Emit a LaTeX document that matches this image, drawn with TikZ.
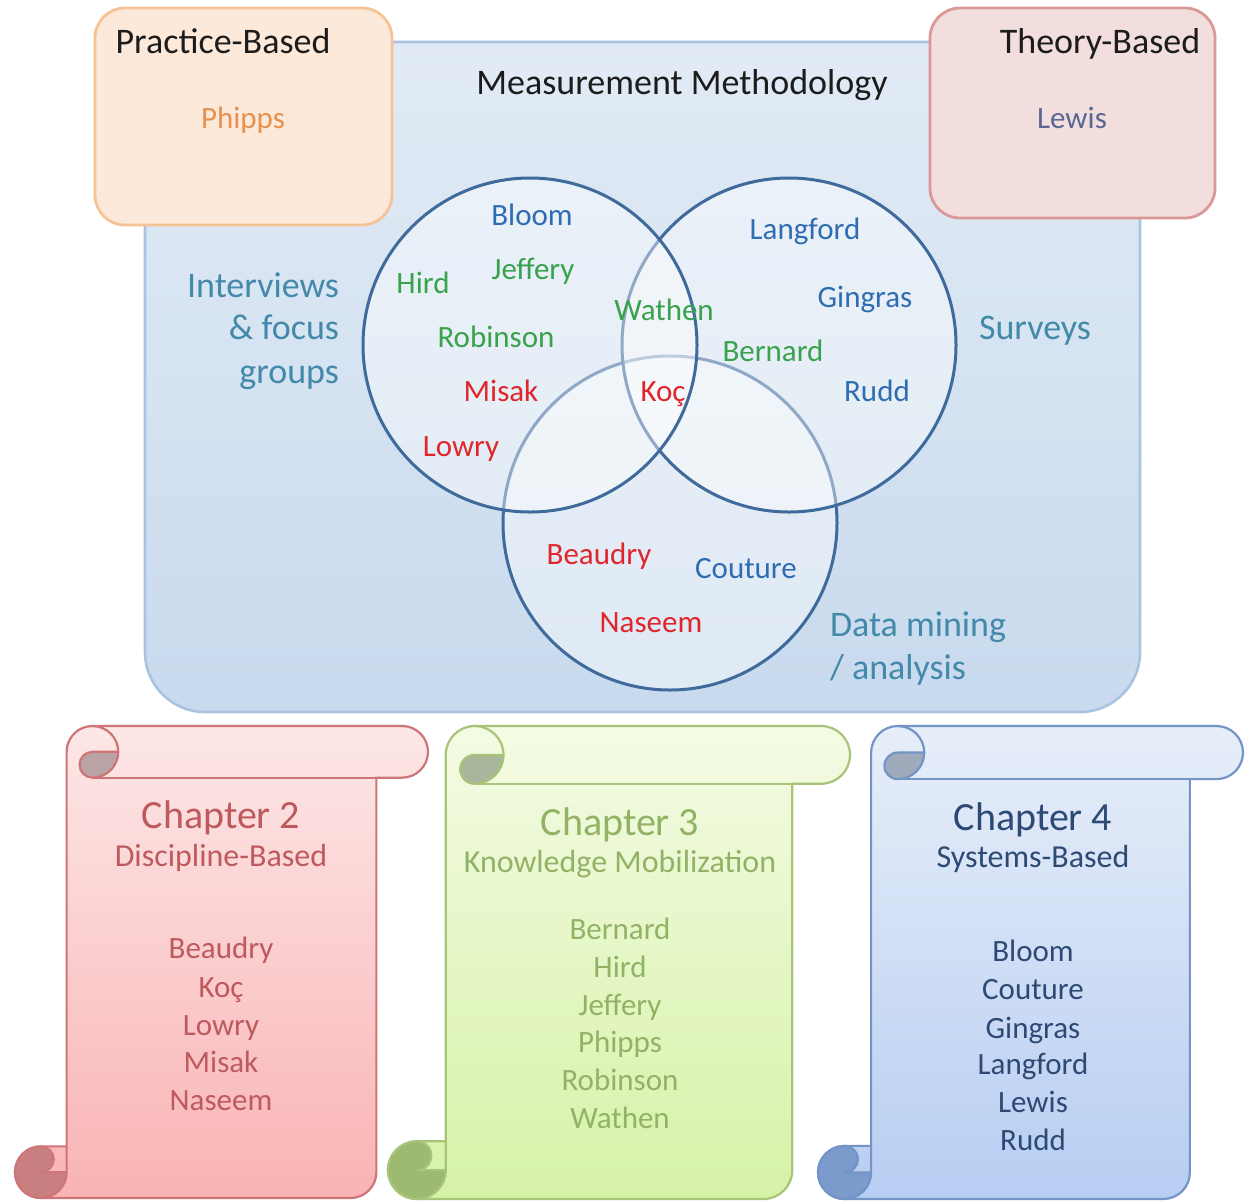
\documentclass[tikz,border=0pt]{standalone}
\usepackage{fontspec}
\setmainfont{Carlito}
\definecolor{mainline}{HTML}{A9C3E0}
\definecolor{maintop}{HTML}{E2EBF5}
\definecolor{mainbot}{HTML}{C8DAEE}
\definecolor{circline}{HTML}{3E6A9C}
\definecolor{pracfill}{HTML}{FDE9DA}
\definecolor{pracline}{HTML}{F6C396}
\definecolor{theofill}{HTML}{F2DEDD}
\definecolor{theoline}{HTML}{DA9896}
\definecolor{nblue}{HTML}{2F6DB3}
\definecolor{ngreen}{HTML}{38A24C}
\definecolor{nred}{HTML}{E0262B}
\definecolor{labc}{HTML}{4389AA}
\definecolor{phippsc}{HTML}{E8904E}
\definecolor{lewisc}{HTML}{5A6794}
\definecolor{hdc}{HTML}{1C1C1C}
% scroll colours
\definecolor{sAline}{HTML}{CD7678}
\definecolor{sAtop}{HTML}{FDE7E7}
\definecolor{sAbot}{HTML}{F9B3B4}
\definecolor{sAdtop}{HTML}{B9A3A4}
\definecolor{sAdbot}{HTML}{C97F80}
\definecolor{sAtext}{HTML}{BE5A5E}
\definecolor{sBline}{HTML}{A8C479}
\definecolor{sBtop}{HTML}{F4FBE4}
\definecolor{sBbot}{HTML}{D6F2A6}
\definecolor{sBdtop}{HTML}{A9B69C}
\definecolor{sBdbot}{HTML}{9DBA70}
\definecolor{sBtext}{HTML}{92B265}
\definecolor{sCline}{HTML}{7395C6}
\definecolor{sCtop}{HTML}{E7EEF9}
\definecolor{sCbot}{HTML}{B7CDF2}
\definecolor{sCdtop}{HTML}{9FAABB}
\definecolor{sCdbot}{HTML}{7A9BCB}
\definecolor{sCtext}{HTML}{2C4A74}
\newcommand\myscroll[5]{%
  \pgfmathsetmacro\scrW{#3-#1}%
  \pgfmathsetmacro\scrH{#4-#2}%
  \pgfmathsetmacro\scrC{0.125*min(\scrW,\scrH)}%
  \pgfmathsetmacro\scrHC{0.5*\scrC}%
  \pgfmathsetmacro\scrQC{0.25*\scrC}%
  \begin{scope}[shift={(#1,#2)}]
    \path[draw=#5line, line width=1.1pt, top color=#5top, bottom color=#5bot]
      (\scrC,\scrH-\scrC) -- (\scrC,\scrHC)
      arc[start angle=180, delta angle=90, radius=\scrHC]
      -- (\scrW-\scrHC,0)
      arc[start angle=270, delta angle=180, radius=\scrHC]
      -- (\scrW-\scrC,\scrC) -- (\scrW-\scrC,\scrH-\scrHC)
      arc[start angle=0, delta angle=90, radius=\scrHC]
      -- (\scrHC,\scrH)
      arc[start angle=90, delta angle=180, radius=\scrHC]
      -- cycle;
    \draw[draw=#5line, line width=1.1pt] (1.5*\scrC,\scrC) -- (\scrW-\scrHC,\scrC);
    \fill[#5dtop] (2*\scrC,\scrHC)
      arc[start angle=0, delta angle=90, radius=\scrHC]
      arc[start angle=90, delta angle=180, radius=\scrQC] -- cycle;
    \draw[draw=#5line, line width=1.1pt] (1.5*\scrC,0)
      arc[start angle=270, delta angle=180, radius=\scrHC]
      arc[start angle=90, delta angle=180, radius=\scrQC]
      -- (2*\scrC,\scrHC);
    \fill[#5dbot] (\scrC,\scrH-\scrHC)
      arc[start angle=0, delta angle=270, radius=\scrHC]
      arc[start angle=270, delta angle=180, radius=\scrQC] -- cycle;
    \draw[draw=#5line, line width=1.1pt] (\scrC,\scrH-\scrHC)
      arc[start angle=0, delta angle=270, radius=\scrHC]
      arc[start angle=270, delta angle=180, radius=\scrQC]
      -- (\scrC,\scrH-\scrHC) -- (\scrC,\scrH-\scrC);
  \end{scope}}
\begin{document}
\begin{tikzpicture}[x=0.5pt, y=-0.5pt,
  every node/.style={inner sep=0pt, outer sep=0pt, anchor=base},
  nmtext/.style={font=\fontsize{15.5}{18}\selectfont},
  hdtext/.style={font=\fontsize{18}{21}\selectfont, text=hdc},
  labtext/.style={font=\fontsize{18}{21}\selectfont, text=labc},
  chaptext/.style={font=\fontsize{20}{24}\selectfont},
  subtext/.style={font=\fontsize{16}{19}\selectfont},
  circstyle/.style={draw=circline, line width=1.5pt, fill=white, fill opacity=0.42, draw opacity=1}]
\useasboundingbox (0,0) rectangle (1247,1201);
\fill[white] (0,0) rectangle (1247,1201);
% main box
\path[draw=mainline, line width=1.3pt, rounded corners=30pt, top color=maintop, bottom color=mainbot]
  (145,42) rectangle (1140,712);
% circles
\draw[circstyle] (670,523) circle[radius=167];
\draw[circstyle] (789,345) circle[radius=167];
\draw[circstyle] (530,345) circle[radius=167];
% top boxes
\draw[draw=pracline, fill=pracfill, line width=1.4pt, rounded corners=15pt] (95,8) rectangle (392,225);
\draw[draw=theoline, fill=theofill, line width=1.4pt, rounded corners=15pt] (930,8) rectangle (1215,218);
% texts top
\node[hdtext] (mm) at (682,94) {Measurement Methodology};
\node[hdtext] (pb) at (223,53) {Practice-Based};
\node[nmtext, text=phippsc] (ph) at (243,128) {Phipps};
\node[hdtext] (tb) at (1100,53) {Theory-Based};
\node[nmtext, text=lewisc] (lw) at (1072,128) {Lewis};
% labels
\node[labtext, anchor=base east] (iv1) at (339,297) {Interviews};
\node[labtext, anchor=base east] (iv2) at (339,339) {\& focus};
\node[labtext, anchor=base east] (iv3) at (339,383) {groups};
\node[labtext] (sv) at (1035,339) {Surveys};
\node[labtext, anchor=base west] (dm1) at (830,636) {Data mining};
\node[labtext, anchor=base west] (dm2) at (830,679) {/ analysis};
% names in circles
\node[nmtext, text=nblue] (bloom) at (532,225) {Bloom};
\node[nmtext, text=ngreen] (hird) at (423,293) {Hird};
\node[nmtext, text=ngreen] (jeff) at (533,279) {Jeffery};
\node[nmtext, text=ngreen] (robi) at (496,347) {Robinson};
\node[nmtext, text=nred] (misak) at (501,401) {Misak};
\node[nmtext, text=nred] (lowry) at (461,456) {Lowry};
\node[nmtext, text=ngreen] (wath) at (664,320) {Wathen};
\node[nmtext, text=nred] (koc) at (663,401) {Koç};
\node[nmtext, text=nblue] (lang) at (805,239) {Langford};
\node[nmtext, text=nblue] (ging) at (865,307) {Gingras};
\node[nmtext, text=ngreen] (bern) at (773,361) {Bernard};
\node[nmtext, text=nblue] (rudd) at (877,401) {Rudd};
\node[nmtext, text=nred] (beau) at (599,564) {Beaudry};
\node[nmtext, text=nblue] (cout) at (746,578) {Couture};
\node[nmtext, text=nred] (nase) at (651,632) {Naseem};
% scrolls
\myscroll{15}{726}{428}{1198}{sA}
\myscroll{388}{726}{850}{1199}{sB}
\myscroll{818}{726}{1243}{1199}{sC}
% scroll A texts
\node[chaptext, text=sAtext] (c2) at (221,828) {Chapter 2};
\node[subtext, text=sAtext] (c2s) at (221,866) {Discipline-Based};
\node[nmtext, text=sAtext] (a1) at (221,958) {Beaudry};
\node[nmtext, text=sAtext] (a2) at (221,997) {Koç};
\node[nmtext, text=sAtext] (a3) at (221,1035) {Lowry};
\node[nmtext, text=sAtext] (a4) at (221,1072) {Misak};
\node[nmtext, text=sAtext] (a5) at (221,1110) {Naseem};
% scroll B texts
\node[chaptext, text=sBtext] (c3) at (620,835) {Chapter 3};
\node[subtext, text=sBtext] (c3s) at (620,872) {Knowledge Mobilization};
\node[nmtext, text=sBtext] (b1) at (620,939) {Bernard};
\node[nmtext, text=sBtext] (b2) at (620,977) {Hird};
\node[nmtext, text=sBtext] (b3) at (620,1015) {Jeffery};
\node[nmtext, text=sBtext] (b4) at (620,1052) {Phipps};
\node[nmtext, text=sBtext] (b5) at (620,1090) {Robinson};
\node[nmtext, text=sBtext] (b6) at (620,1128) {Wathen};
% scroll C texts
\node[chaptext, text=sCtext] (c4) at (1033,830) {Chapter 4};
\node[subtext, text=sCtext] (c4s) at (1033,867) {Systems-Based};
\node[nmtext, text=sCtext] (d1) at (1033,961) {Bloom};
\node[nmtext, text=sCtext] (d2) at (1033,999) {Couture};
\node[nmtext, text=sCtext] (d3) at (1033,1038) {Gingras};
\node[nmtext, text=sCtext] (d4) at (1033,1074) {Langford};
\node[nmtext, text=sCtext] (d5) at (1033,1112) {Lewis};
\node[nmtext, text=sCtext] (d6) at (1033,1150) {Rudd};
\end{tikzpicture}
\end{document}
